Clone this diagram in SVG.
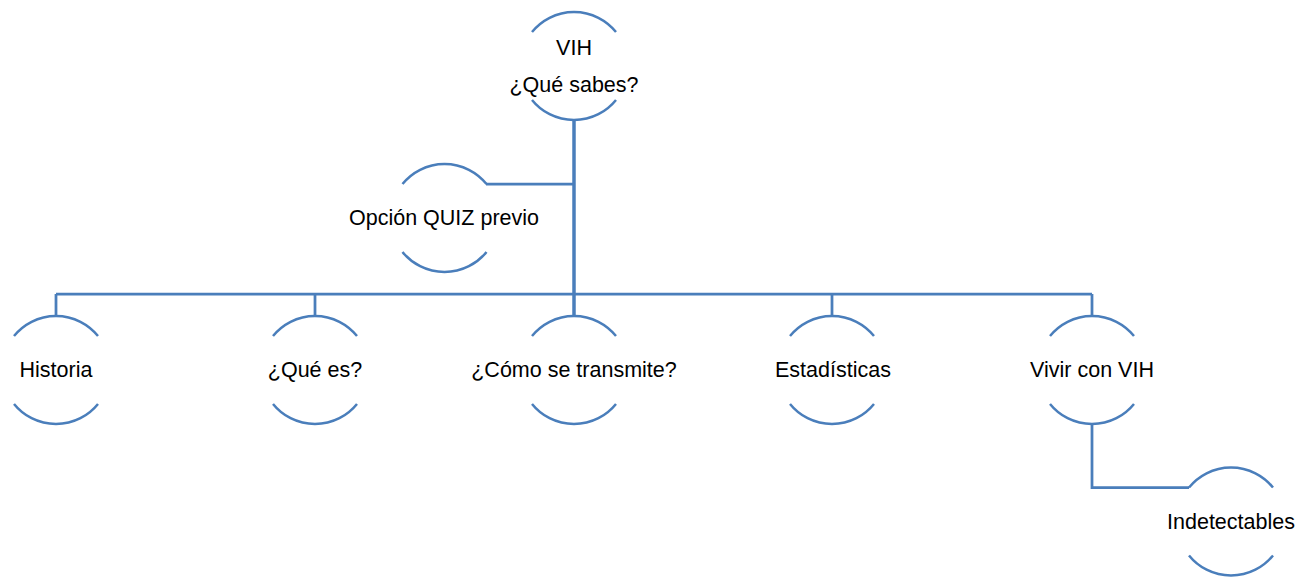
<svg xmlns="http://www.w3.org/2000/svg" width="1303" height="579" viewBox="0 0 1303 579">
<style>
.arc{fill:none;stroke:#4a7ebb;stroke-width:2.5}
.con{fill:none;stroke:#4a7ebb;stroke-width:2.75}
.trunk{fill:none;stroke:#4a7ebb;stroke-width:3.5}
text{font-family:"Liberation Sans",Arial,sans-serif;font-size:21.5px;fill:#000;text-anchor:middle}
</style>
<rect width="1303" height="579" fill="#fff"/>
<g id="connectors">
<path class="trunk" d="M574 120 V316"/>
<path class="con" d="M486 184 H574"/>
<path class="con" d="M56 294 H1092"/>
<path class="con" d="M56 294 V316 M315 294 V316 M832 294 V316 M1092 294 V316"/>
<path class="con" d="M1092 424 V487.5 H1189"/>
</g>
<g id="node-vih">
<path class="arc" d="M532 32 A54 54 0 0 1 616 32 M532 100 A54 54 0 0 0 616 100"/>
<text x="574" y="55">VIH</text>
<text x="574" y="92">¿Qué sabes?</text>
</g>
<g id="node-quiz">
<path class="arc" d="M402.5 184 A54 54 0 0 1 486.5 184 M402.5 252 A54 54 0 0 0 486.5 252"/>
<text x="444" y="225">Opción QUIZ previo</text>
</g>
<g id="node-historia">
<path class="arc" d="M14 336 A54 54 0 0 1 98 336 M14 404 A54 54 0 0 0 98 404"/>
<text x="56" y="377">Historia</text>
</g>
<g id="node-quees">
<path class="arc" d="M273 336 A54 54 0 0 1 357 336 M273 404 A54 54 0 0 0 357 404"/>
<text x="315" y="377">¿Qué es?</text>
</g>
<g id="node-como">
<path class="arc" d="M532 336 A54 54 0 0 1 616 336 M532 404 A54 54 0 0 0 616 404"/>
<text x="574" y="377">¿Cómo se transmite?</text>
</g>
<g id="node-estadisticas">
<path class="arc" d="M790 336 A54 54 0 0 1 874 336 M790 404 A54 54 0 0 0 874 404"/>
<text x="833" y="377">Estadísticas</text>
</g>
<g id="node-vivir">
<path class="arc" d="M1050 336 A54 54 0 0 1 1134 336 M1050 404 A54 54 0 0 0 1134 404"/>
<text x="1092" y="377">Vivir con VIH</text>
</g>
<g id="node-indetectables">
<path class="arc" d="M1189 487.5 A54 54 0 0 1 1273 487.5 M1189 555.5 A54 54 0 0 0 1273 555.5"/>
<text x="1231" y="529">Indetectables</text>
</g>
</svg>
